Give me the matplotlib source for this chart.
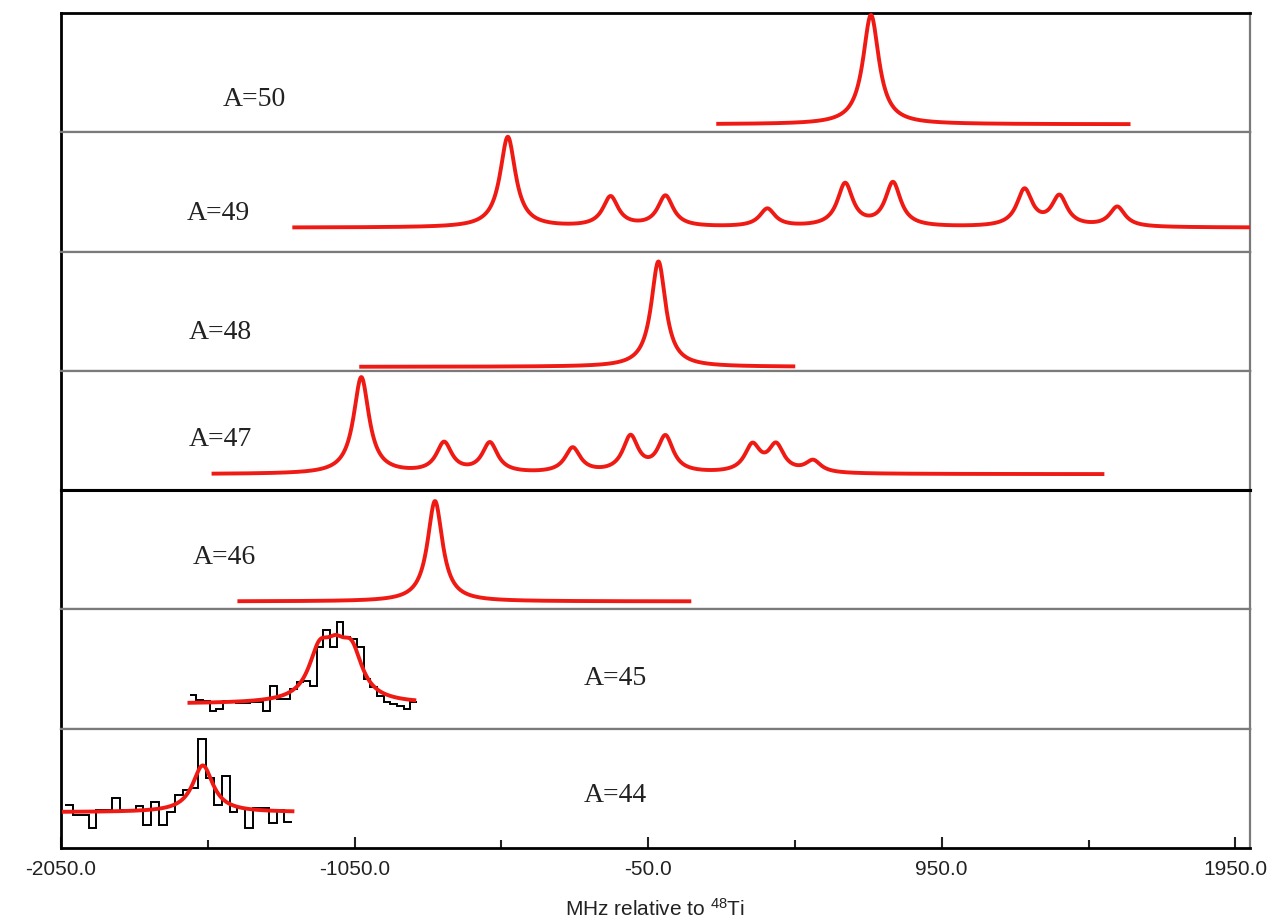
import numpy as np
import matplotlib.pyplot as plt

plt.rcParams['font.family'] = ['Liberation Sans', 'DejaVu Sans']
plt.rcParams['mathtext.default'] = 'regular'

# panel labels, top to bottom
labels = ["A=50", "A=49", "A=48", "A=47", "A=46", "A=45", "A=44"]
label_x = [-1391, -1515, -1508, -1508, -1495, -161, -161]
label_y = [33, 38, 39, 51, 52, 50, 53]

# fitted hyperfine components: centre (MHz), height above background
c50 = [709]
h50 = [110]
c49 = [-528, -178, 9, 356, 621, 784, 1232, 1351, 1548]
h49 = [91, 30, 31, 18, 43, 44, 37, 30, 20]
c48 = [-15]
h48 = [106]
c47 = [-1027, -745, -589, -307, -110, 9, 305, 386, 512]
h47 = [97, 30, 30, 25, 36, 36, 27, 27, 12]
c46 = [-776]
h46 = [101]
c45 = [-1170, -1115, -1060]
h45 = [44, 34, 44]
c44 = [-1567]
h44 = [47]

# background, line width (FWHM, MHz) and frequency span of each fit
bg = [8, 24, 4, 16, 8, 25, 36]
fwhm = [66, 64, 60, 64, 62, 90, 85]
span = [(182, 1593), (-1262, 2000), (-1034, 451), (-1537, 1504),
        (-1449, 97), (-1619, -840), (-2047, -1255)]

# raw counts (only visible in the low statistics runs)
counts45 = [34, 29, 28, 18, 20, 28, 27, 26, 26, 27, 27, 18, 43, 30, 30, 40, 47,
            48, 43, 82, 99, 82, 107, 92, 90, 82, 50, 42, 33, 27, 25, 23, 20, 27]
counts44 = [43, 33, 33, 20, 38, 38, 50, 38, 38, 42, 23, 46, 23, 36, 53, 58, 60,
            110, 70, 43, 72, 36, 40, 20, 40, 40, 25, 38, 26]
range45 = (-1612, -837)
range44 = (-2036, -1262)

centres = [c50, c49, c48, c47, c46, c45, c44]
heights = [h50, h49, h48, h47, h46, h45, h44]


def lorentz(x, cs, hs, w, b):
    y = np.full_like(x, float(b))
    for c, h in zip(cs, hs):
        y += h / (1 + ((x - c) / (w / 2)) ** 2)
    return y


red = '#f01a14'
fig, axes = plt.subplots(7, 1, sharex=True, figsize=(12.81, 9.24), dpi=100)
fig.subplots_adjust(left=0.0476, right=0.9758, top=0.986, bottom=0.0823, hspace=0)

for i, ax in enumerate(axes):
    ax.set_xlim(-2050, 2000)
    ax.set_ylim(0, 120)
    ax.set_yticks([])
    ax.tick_params(axis='x', which='both', bottom=False, labelbottom=False)

    if i == 5:
        ax.stairs(counts45, np.linspace(*range45, len(counts45) + 1),
                  color='black', lw=1.4, baseline=None, zorder=2)
    if i == 6:
        ax.stairs(counts44, np.linspace(*range44, len(counts44) + 1),
                  color='black', lw=1.4, baseline=None, zorder=2)

    x = np.linspace(span[i][0], span[i][1], 1500)
    ax.plot(x, lorentz(x, centres[i], heights[i], fwhm[i], bg[i]),
            color=red, lw=2.8, zorder=3, solid_capstyle='butt')

    ax.text(label_x[i], label_y[i], labels[i], ha='center', va='center',
            fontsize=20, family=['Liberation Serif'], color='#222222')

    # frame: dark outside, grey separators between runs
    ax.spines['left'].set_color('black')
    ax.spines['left'].set_linewidth(2)
    ax.spines['right'].set_color('#7a7a7a')
    ax.spines['right'].set_linewidth(1.6)
    for side in ['top', 'bottom']:
        ax.spines[side].set_color('#7a7a7a')
        ax.spines[side].set_linewidth(1.6)

axes[0].spines['top'].set_color('black')
axes[0].spines['top'].set_linewidth(2)
axes[3].spines['bottom'].set_color('black')
axes[3].spines['bottom'].set_linewidth(2.2)
axes[4].spines['top'].set_color('black')
axes[4].spines['top'].set_linewidth(2.2)
axes[-1].spines['bottom'].set_color('black')
axes[-1].spines['bottom'].set_linewidth(2)

ax = axes[-1]
ax.set_xticks([-2050, -1050, -50, 950, 1950])
ax.set_xticks([-1550, -550, 450, 1450], minor=True)
ax.set_xticklabels(["%.1f" % t for t in [-2050, -1050, -50, 950, 1950]])
ax.tick_params(axis='x', which='both', bottom=True, labelbottom=True,
               direction='in', width=1.5, labelsize=15, pad=9, colors='#222222')
ax.tick_params(axis='x', which='major', length=8)
ax.tick_params(axis='x', which='minor', length=6)
ax.set_xlabel("MHz relative to $^{48}$Ti", fontsize=15, labelpad=13, color='#222222')

fig.savefig('out.png', dpi=100)
